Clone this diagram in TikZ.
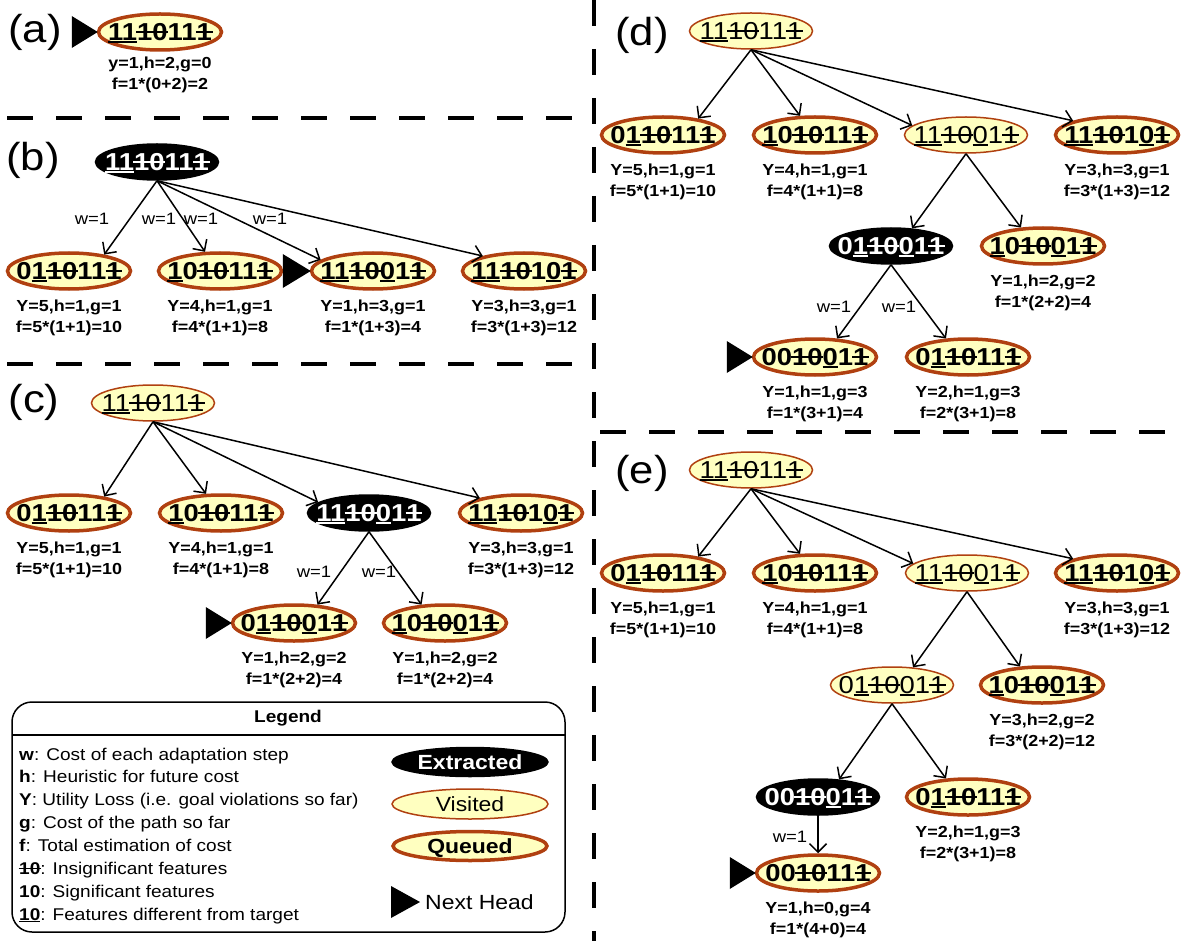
\documentclass[tikz,border=0pt]{standalone}
\usepackage{fontspec}
\setmainfont{Liberation Sans}[FakeStretch=1.12]
\usetikzlibrary{arrows.meta,shapes.geometric}

\definecolor{nodefill}{RGB}{255,255,192}
\definecolor{nodeedge}{RGB}{176,64,16}

% feature markup: underline = differs from target, strike = insignificant
\newcommand\ddif[1]{\leavevmode\setbox0\hbox{#1}\rlap{\rule[-0.11em]{\wd0}{0.08em}}\box0\relax}
\newcommand\dstr[1]{\leavevmode\setbox0\hbox{#1}\rlap{\kern-0.03em\rule[0.31em]{\dimexpr\wd0+0.06em\relax}{0.07em}}\box0\relax}

% the configurations used in the search tree
\newcommand\cfgA{\makebox[0pt]{\ddif{11}\dstr{10}11\dstr{1}}}        % 1110111
\newcommand\cfgB{\makebox[0pt]{0\ddif{1}\dstr{10}11\dstr{1}}}        % 0110111
\newcommand\cfgC{\makebox[0pt]{\ddif{1}0\dstr{10}11\dstr{1}}}        % 1010111
\newcommand\cfgD{\makebox[0pt]{\ddif{11}\dstr{10}\ddif{0}1\dstr{1}}} % 1110011
\newcommand\cfgE{\makebox[0pt]{\ddif{11}\dstr{10}1\ddif{0}\dstr{1}}} % 1110101
\newcommand\cfgF{\makebox[0pt]{0\ddif{1}\dstr{10}\ddif{0}1\dstr{1}}} % 0110011
\newcommand\cfgG{\makebox[0pt]{\ddif{1}0\dstr{10}\ddif{0}1\dstr{1}}} % 1010011
\newcommand\cfgH{\makebox[0pt]{00\dstr{10}\ddif{0}1\dstr{1}}}        % 0010011
\newcommand\cfgI{\makebox[0pt]{00\dstr{10}11\dstr{1}}}               % 0010111

\begin{document}
\begin{tikzpicture}[x=1pt,y=-1pt,
  basenode/.style={ellipse, inner sep=0pt, minimum width=123pt, minimum height=36pt,
    text height=17.5pt, text depth=0pt},
  queued/.style={basenode, draw=nodeedge, fill=nodefill, line width=3.5pt,
    font=\fontsize{24.5}{24.5}\selectfont\bfseries},
  visited/.style={basenode, draw=nodeedge, fill=nodefill, line width=1.5pt,
    font=\fontsize{24.5}{24.5}\selectfont},
  extracted/.style={basenode, draw=black, fill=black, text=white, line width=1.5pt,
    font=\fontsize{24.5}{24.5}\selectfont\bfseries},
  info/.style={inner sep=0pt, align=center, anchor=north,
    font=\fontsize{16}{20.5}\selectfont\bfseries},
  wlabel/.style={inner sep=0pt, font=\fontsize{16.5}{16.5}\selectfont},
  panel/.style={inner sep=0pt, font=\fontsize{39}{39}\selectfont},
  link/.style={line width=1.5pt, -{Straight Barb[length=8.5pt,width=17pt]}},
  divider/.style={line width=4.5pt, dash pattern=on 26pt off 23pt},
  headmark/.style={fill=black},
  legtext/.style={inner sep=0pt, anchor=base west, font=\fontsize{17}{17}\selectfont},
]
\useasboundingbox (0,0) rectangle (1188,941);

% panel separators
\draw[divider] (7,118) -- (585,118);
\draw[divider] (7,364) -- (585,364);
\draw[divider] (594,0) -- (594,941);
\draw[divider] (600,432) -- (1188,432);

% ---------- (a)
\node[panel] (pa) at (35,32) {(a)};
\node[queued] (a0) at (160,32) {\cfgA};
\node[info] (a0i) at ([yshift=-5pt]a0.south) {y=1,h=2,g=0\\f=1*(0+2)=2};
\fill[headmark] ([xshift=1pt]a0.west) -- ++(-26,-16) -- ++(0,32) -- cycle;

% ---------- (b)
\node[panel] (pb) at (33,160) {(b)};
\node[extracted] (b0) at (157,162) {\cfgA};
\node[queued] (b1) at (69,271) {\cfgB};
\node[queued] (b2) at (220,271) {\cfgC};
\node[queued] (b3) at (373,271) {\cfgD};
\node[queued] (b4) at (524,271) {\cfgE};
\node[info] (b1i) at ([yshift=-9pt]b1.south) {Y=5,h=1,g=1\\f=5*(1+1)=10};
\node[info] (b2i) at ([yshift=-9pt]b2.south) {Y=4,h=1,g=1\\f=4*(1+1)=8};
\node[info] (b3i) at ([yshift=-9pt]b3.south) {Y=1,h=3,g=1\\f=1*(1+3)=4};
\node[info] (b4i) at ([yshift=-9pt]b4.south) {Y=3,h=3,g=1\\f=3*(1+3)=12};
\draw[link] (b0.south) -- (b1.25);
\draw[link] (b0.south) -- (b2.128);
\draw[link] (b0.south) -- (b3.168);
\draw[link] (b0.south) -- (b4.160);
\node[wlabel] (bw1) at (92,219) {w=1};
\node[wlabel] (bw2) at (159,219) {w=1};
\node[wlabel] (bw3) at (201,219) {w=1};
\node[wlabel] (bw4) at (270,219) {w=1};
\fill[headmark] ([xshift=1pt]b3.west) -- ++(-28,-17) -- ++(0,34) -- cycle;

% ---------- (c)
\node[panel] (pc) at (34,402) {(c)};
\node[visited] (c0) at (153,403) {\cfgA};
\node[queued] (c1) at (69,513) {\cfgB};
\node[queued] (c2) at (221,513) {\cfgC};
\node[extracted] (c3) at (369,513) {\cfgD};
\node[queued] (c4) at (521,513) {\cfgE};
\node[queued] (c5) at (294,623) {\cfgF};
\node[queued] (c6) at (445,623) {\cfgG};
\node[info] (c1i) at ([yshift=-9pt]c1.south) {Y=5,h=1,g=1\\f=5*(1+1)=10};
\node[info] (c2i) at ([yshift=-9pt]c2.south) {Y=4,h=1,g=1\\f=4*(1+1)=8};
\node[info] (c4i) at ([yshift=-9pt]c4.south) {Y=3,h=3,g=1\\f=3*(1+3)=12};
\node[info] (c5i) at ([yshift=-9pt]c5.south) {Y=1,h=2,g=2\\f=1*(2+2)=4};
\node[info] (c6i) at ([yshift=-9pt]c6.south) {Y=1,h=2,g=2\\f=1*(2+2)=4};
\draw[link] (c0.south) -- (c1.25);
\draw[link] (c0.south) -- (c2.128);
\draw[link] (c0.south) -- (c3.168);
\draw[link] (c0.south) -- (c4.160);
\draw[link] (c3.south) -- (c5.38);
\draw[link] (c3.south) -- (c6.142);
\node[wlabel] (cw1) at (314,572) {w=1};
\node[wlabel] (cw2) at (379,572) {w=1};
\fill[headmark] ([xshift=1pt]c5.west) -- ++(-26,-16) -- ++(0,32) -- cycle;

% ---------- legend
\draw[line width=1.5pt, rounded corners=20pt] (12,702) rectangle (565,932);
\draw[line width=1.2pt] (12,735) -- (565,735);
\node[inner sep=0pt, font=\fontsize{17}{17}\selectfont\bfseries] (lt) at (288,718) {Legend};
\node[legtext] (lw) at (19,760.5) {\textbf{w}: Cost of each adaptation step};
\node[legtext] (lh) at (19,782.5) {\textbf{h}: Heuristic for future cost};
\node[legtext] (lY) at (19,805.5) {\textbf{Y}: Utility Loss (i.e. goal violations so far)};
\node[legtext] (lg) at (19,828.5) {\textbf{g}: Cost of the path so far};
\node[legtext] (lf) at (19,851.5) {\textbf{f}: Total estimation of cost};
\node[legtext] (li) at (19,874.5) {\dstr{\textbf{10}}: Insignificant features};
\node[legtext] (ls) at (19,897.5) {\textbf{10}: Significant features};
\node[legtext] (ld) at (19,920.5) {\ddif{\textbf{10}}: Features different from target};
\node[extracted, minimum width=156pt, minimum height=29pt, text height=14.5pt,
  font=\fontsize{20.5}{20.5}\selectfont\bfseries] (lx) at (470,762) {Extracted};
\node[visited, minimum width=156pt, minimum height=30pt, text height=14.5pt,
  font=\fontsize{20.5}{20.5}\selectfont] (lv) at (470,804) {Visited};
\node[queued, minimum width=154pt, minimum height=29pt, text height=14.5pt,
  font=\fontsize{20.5}{20.5}\selectfont\bfseries] (lq) at (470,846) {Queued};
\node[inner sep=0pt, anchor=west, text height=14.5pt, text depth=0pt,
  font=\fontsize{20.5}{20.5}\selectfont] (ln) at (425,902) {Next Head};
\fill[headmark] ([xshift=-5pt]ln.west) -- ++(-29,-16) -- ++(0,32) -- cycle;

% ---------- (d)
\node[panel] (pd) at (642,35) {(d)};
\node[visited] (d0) at (751,31) {\cfgA};
\node[queued] (d1) at (663,135) {\cfgB};
\node[queued] (d2) at (815,135) {\cfgC};
\node[visited] (d3) at (966,135) {\cfgD};
\node[queued] (d4) at (1117,135) {\cfgE};
\node[extracted] (d5) at (891,246) {\cfgF};
\node[queued] (d6) at (1043,246) {\cfgG};
\node[queued] (d7) at (815,357) {\cfgH};
\node[queued] (d8) at (968,357) {\cfgB};
\node[info] (d1i) at ([yshift=-9pt]d1.south) {Y=5,h=1,g=1\\f=5*(1+1)=10};
\node[info] (d2i) at ([yshift=-9pt]d2.south) {Y=4,h=1,g=1\\f=4*(1+1)=8};
\node[info] (d4i) at ([yshift=-9pt]d4.south) {Y=3,h=3,g=1\\f=3*(1+3)=12};
\node[info] (d6i) at ([yshift=-9pt]d6.south) {Y=1,h=2,g=2\\f=1*(2+2)=4};
\node[info] (d7i) at ([yshift=-9pt]d7.south) {Y=1,h=1,g=3\\f=1*(3+1)=4};
\node[info] (d8i) at ([yshift=-9pt]d8.south) {Y=2,h=1,g=3\\f=2*(3+1)=8};
\draw[link] (d0.south) -- (d1.25);
\draw[link] (d0.south) -- (d2.128);
\draw[link] (d0.south) -- (d3.170);
\draw[link] (d0.south) -- (d4.162);
\draw[link] (d3.south) -- (d5.40);
\draw[link] (d3.south) -- (d6.140);
\draw[link] (d5.south) -- (d7.40);
\draw[link] (d5.south) -- (d8.140);
\node[wlabel] (dw1) at (834,307) {w=1};
\node[wlabel] (dw2) at (899,307) {w=1};
\fill[headmark] ([xshift=1pt]d7.west) -- ++(-26,-16) -- ++(0,32) -- cycle;

% ---------- (e)
\node[panel] (pe) at (642,473) {(e)};
\node[visited] (e0) at (751,470) {\cfgA};
\node[queued] (e1) at (663,573) {\cfgB};
\node[queued] (e2) at (815,573) {\cfgC};
\node[visited] (e3) at (967,573) {\cfgD};
\node[queued] (e4) at (1117,573) {\cfgE};
\node[visited] (e5) at (892,685) {\cfgF};
\node[queued] (e6) at (1042,685) {\cfgG};
\node[extracted] (e7) at (818,797) {\cfgH};
\node[queued] (e8) at (968,797) {\cfgB};
\node[queued] (e9) at (818,873) {\cfgI};
\node[info] (e1i) at ([yshift=-9pt]e1.south) {Y=5,h=1,g=1\\f=5*(1+1)=10};
\node[info] (e2i) at ([yshift=-9pt]e2.south) {Y=4,h=1,g=1\\f=4*(1+1)=8};
\node[info] (e4i) at ([yshift=-9pt]e4.south) {Y=3,h=3,g=1\\f=3*(1+3)=12};
\node[info] (e6i) at ([yshift=-9pt]e6.south) {Y=3,h=2,g=2\\f=3*(2+2)=12};
\node[info] (e8i) at ([yshift=-9pt]e8.south) {Y=2,h=1,g=3\\f=2*(3+1)=8};
\node[info] (e9i) at ([yshift=-9pt]e9.south) {Y=1,h=0,g=4\\f=1*(4+0)=4};
\draw[link] (e0.south) -- (e1.25);
\draw[link] (e0.south) -- (e2.128);
\draw[link] (e0.south) -- (e3.170);
\draw[link] (e0.south) -- (e4.162);
\draw[link] (e3.south) -- (e5.40);
\draw[link] (e3.south) -- (e6.140);
\draw[link] (e5.south) -- (e7.40);
\draw[link] (e5.south) -- (e8.140);
\draw[link] (e7.south) -- (e9.north);
\node[wlabel] (ew1) at (790,837) {w=1};
\fill[headmark] ([xshift=1pt]e9.west) -- ++(-26,-16) -- ++(0,32) -- cycle;
\end{tikzpicture}
\end{document}
